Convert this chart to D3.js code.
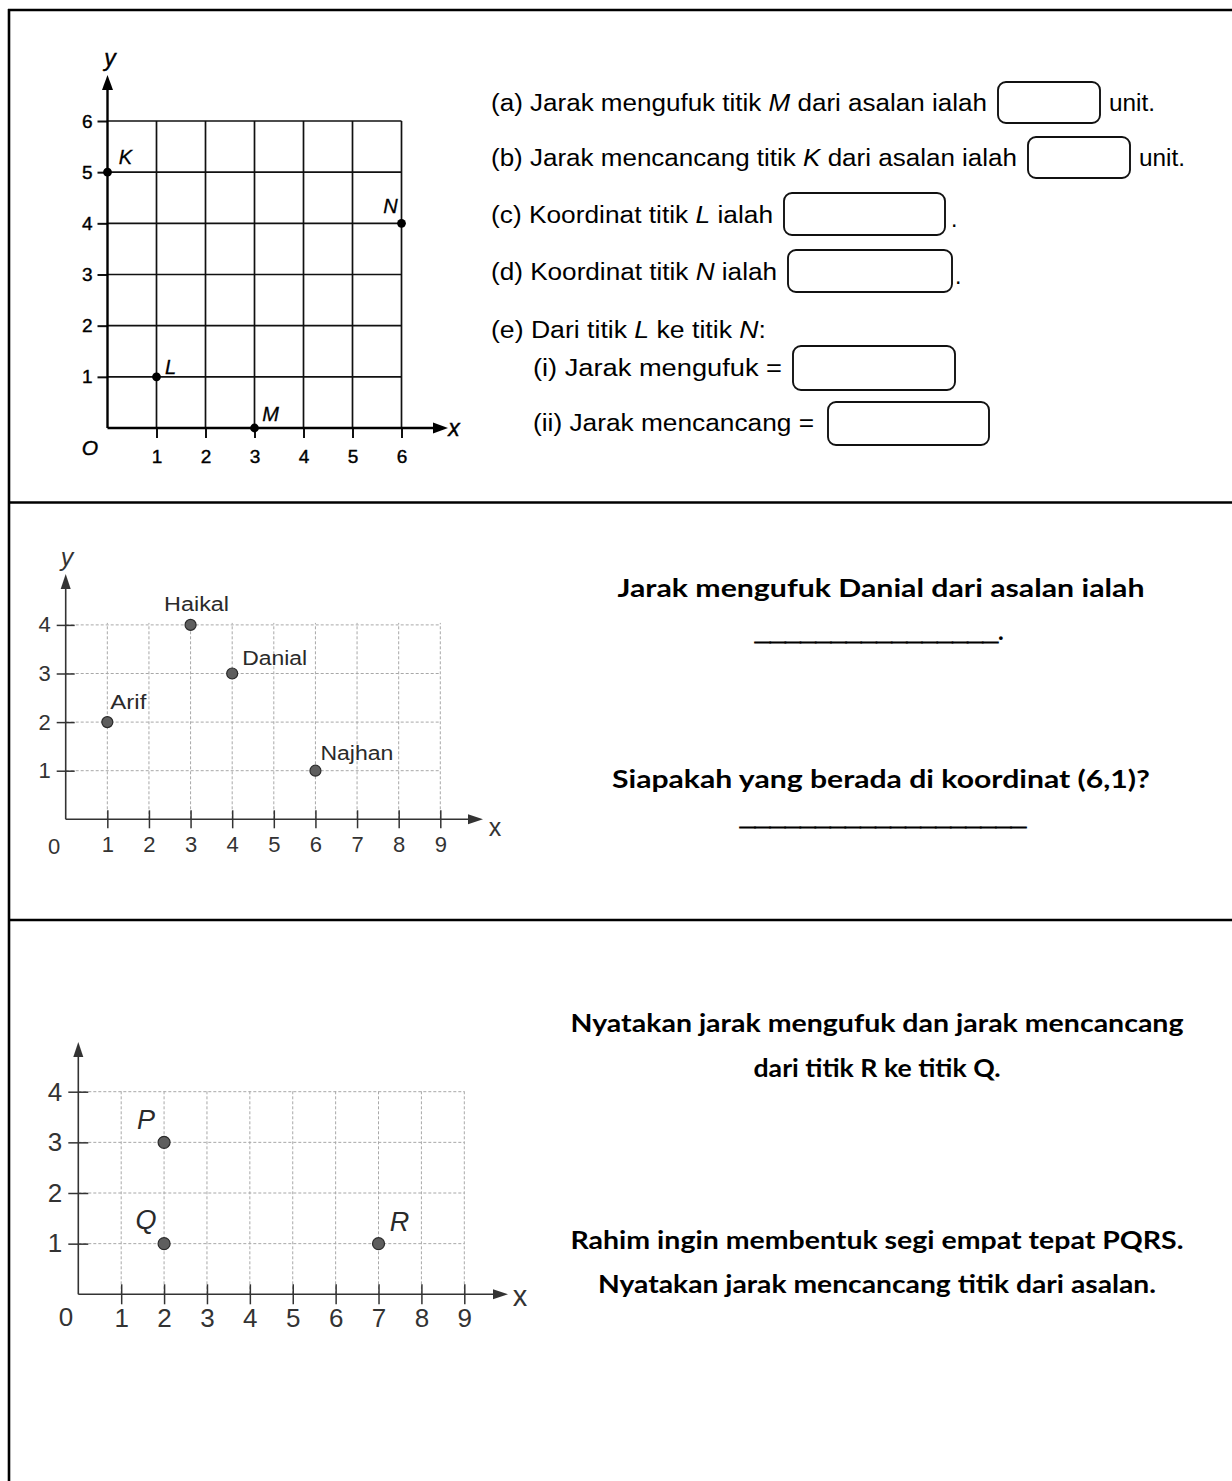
<!DOCTYPE html>
<html>
<head>
<meta charset="utf-8">
<script src="https://cdn.jsdelivr.net/npm/d3@7"></script>
<style>
body { margin: 0; background: #fff; }
svg { display: block; }
</style>
</head>
<body>
<script>
// ---- data ----
// chart 1 (top)
var ticksA = [1, 2, 3, 4, 5, 6];
var pointNamesA = ["K", "L", "M", "N"];
var pointXA = [0, 1, 3, 6];
var pointYA = [5, 1, 0, 4];
// chart 2 (middle)
var ticksBX = [1, 2, 3, 4, 5, 6, 7, 8, 9];
var ticksBY = [1, 2, 3, 4];
var pupilNames = ["Arif", "Haikal", "Danial", "Najhan"];
var pupilX = [1, 3, 4, 6];
var pupilY = [2, 4, 3, 1];
// chart 3 (bottom)
var ticksCX = [1, 2, 3, 4, 5, 6, 7, 8, 9];
var ticksCY = [1, 2, 3, 4];
var pointNamesC = ["P", "Q", "R"];
var pointXC = [2, 2, 7];
var pointYC = [3, 1, 1];
// question texts (*X* = italic)
var questionsA = [
    "(a) Jarak mengufuk titik *M* dari asalan ialah",
    "(b) Jarak mencancang titik *K* dari asalan ialah",
    "(c) Koordinat titik *L* ialah",
    "(d) Koordinat titik *N* ialah",
    "(e) Dari titik *L* ke titik *N*:",
    "(i)  Jarak mengufuk =",
    "(ii) Jarak mencancang ="
];
var questionsB = ["Jarak mengufuk Danial dari asalan ialah", "Siapakah yang berada di koordinat (6,1)?"];
var blanksB = ["________________", "___________________"];
var questionsC = [
    "Nyatakan jarak mengufuk dan jarak mencancang",
    "dari titik R ke titik Q.",
    "Rahim ingin membentuk segi empat tepat PQRS.",
    "Nyatakan jarak mencancang titik dari asalan."
];

var FONT = "Liberation Sans, Arial, sans-serif";
var svg = d3.select("body").append("svg").attr("width", 1232).attr("height", 1481);

// table frame
var frame = svg.append("g").attr("stroke", "#000").attr("stroke-width", 2.6);
frame.append("line").attr("x1", 8).attr("x2", 1232).attr("y1", 10).attr("y2", 10);
frame.append("line").attr("x1", 9).attr("x2", 9).attr("y1", 9).attr("y2", 1481);
[502.5, 920].forEach(function (y) {
    frame.append("line").attr("x1", 9).attr("x2", 1232).attr("y1", y).attr("y2", y);
});

function arrowUp(g, x, tip, color, w) {
    w = w || 5;
    g.append("path").attr("d", "M" + x + "," + tip + "L" + (x - w) + "," + (tip + 15) + "L" + (x + w) + "," + (tip + 15) + "Z")
        .attr("fill", color);
}
function arrowRight(g, tip, y, color, w) {
    w = w || 5;
    g.append("path").attr("d", "M" + tip + "," + y + "L" + (tip - 15) + "," + (y - w) + "L" + (tip - 15) + "," + (y + w) + "Z")
        .attr("fill", color);
}

// text with italic parts, squeezed to a given width
function fitText(g, str, x, y, width, opts) {
    opts = opts || {};
    var t = g.append("text").attr("x", x).attr("y", y)
        .attr("font-family", opts.family || FONT)
        .attr("font-size", opts.size || 23)
        .attr("font-weight", opts.weight || "normal")
        .attr("fill", opts.fill || "#000")
        .attr("text-anchor", opts.anchor || "start");
    str.split("*").forEach(function (part, i) {
        if (part === "") return;
        t.append("tspan").text(part).attr("font-style", i % 2 ? "italic" : "normal");
    });
    if (width) t.attr("textLength", width).attr("lengthAdjust", "spacingAndGlyphs");
    return t;
}

// ================= chart 1 =================
var xA = d3.scaleLinear().domain([0, 6]).range([107.5, 401.5]);
var yA = d3.scaleLinear().domain([0, 6]).range([428, 121]);
var gA = svg.append("g");

gA.selectAll("line.vgrid").data(ticksA).join("line").attr("class", "vgrid")
    .attr("x1", function (d) { return xA(d); }).attr("x2", function (d) { return xA(d); })
    .attr("y1", yA(0)).attr("y2", yA(6))
    .attr("stroke", "#111").attr("stroke-width", 1.7);
gA.selectAll("line.hgrid").data(ticksA).join("line").attr("class", "hgrid")
    .attr("x1", xA(0)).attr("x2", xA(6))
    .attr("y1", function (d) { return yA(d); }).attr("y2", function (d) { return yA(d); })
    .attr("stroke", "#111").attr("stroke-width", 1.7);

var axA = gA.append("g").attr("transform", "translate(" + xA(0) + ",0)")
    .call(d3.axisLeft(yA).tickValues(ticksA).tickSize(10).tickPadding(5).tickFormat(d3.format("d")));
var axAx = gA.append("g").attr("transform", "translate(0," + yA(0) + ")")
    .call(d3.axisBottom(xA).tickValues(ticksA).tickSize(10).tickPadding(12).tickFormat(d3.format("d")));
[axA, axAx].forEach(function (a) {
    a.select(".domain").remove();
    a.selectAll(".tick line").attr("stroke", "#111").attr("stroke-width", 2);
    a.selectAll(".tick text").attr("font-family", FONT)
        .attr("font-size", 19).attr("fill", "#000").attr("stroke", "#000").attr("stroke-width", 0.4);
});
gA.append("line").attr("x1", xA(0)).attr("x2", xA(0)).attr("y1", yA(0)).attr("y2", 86)
    .attr("stroke", "#000").attr("stroke-width", 2.4);
arrowUp(gA, xA(0), 75, "#000", 5.5);
gA.append("line").attr("x1", xA(0)).attr("x2", 436).attr("y1", yA(0)).attr("y2", yA(0))
    .attr("stroke", "#000").attr("stroke-width", 2.4);
arrowRight(gA, 448, yA(0), "#000", 5.5);
[["y", 110, 66, 23], ["x", 454, 436, 23], ["O", 90, 455, 21]].forEach(function (l) {
    gA.append("text").attr("x", l[1]).attr("y", l[2]).attr("text-anchor", "middle").attr("font-style", "italic")
        .attr("font-family", FONT).attr("font-size", l[3]).attr("fill", "#000")
        .attr("stroke", "#000").attr("stroke-width", 0.4).text(l[0]);
});

var ptsA = pointNamesA.map(function (n, i) { return { name: n, x: pointXA[i], y: pointYA[i] }; });
var offA = { K: [18, -8], L: [14, -3], M: [16, -7], N: [-11, -10] };
gA.selectAll("circle.pt").data(ptsA).join("circle").attr("class", "pt")
    .attr("cx", function (d) { return xA(d.x); }).attr("cy", function (d) { return yA(d.y); })
    .attr("r", 4.4).attr("fill", "#000");
gA.selectAll("text.pt").data(ptsA).join("text").attr("class", "pt")
    .attr("x", function (d) { return xA(d.x) + offA[d.name][0]; })
    .attr("y", function (d) { return yA(d.y) + offA[d.name][1]; })
    .attr("text-anchor", "middle").attr("font-style", "italic")
    .attr("font-family", FONT).attr("font-size", 20).attr("fill", "#000")
    .attr("stroke", "#000").attr("stroke-width", 0.3)
    .text(function (d) { return d.name; });

// questions of row 1
var qA = svg.append("g");
var qLayout = [[491, 111, 496], [491, 166, 526], [491, 223, 282], [491, 280, 286], [491, 338, 275], [533, 376, 249], [533, 431, 281]];
questionsA.forEach(function (q, i) {
    fitText(qA, q, qLayout[i][0], qLayout[i][1], qLayout[i][2]);
});
fitText(qA, "unit.", 1109, 111, 46);
fitText(qA, "unit.", 1139, 166, 46);
fitText(qA, ".", 951, 227, 0);
fitText(qA, ".", 955, 284, 0);
var boxes = [[998, 82, 1100, 123], [1028, 137, 1130, 178], [784, 193, 945, 235], [788, 250, 952, 292], [793, 346, 955, 390], [828, 402, 989, 445]];
qA.selectAll("rect.box").data(boxes).join("rect").attr("class", "box")
    .attr("x", function (d) { return d[0]; }).attr("y", function (d) { return d[1]; })
    .attr("width", function (d) { return d[2] - d[0]; }).attr("height", function (d) { return d[3] - d[1]; })
    .attr("rx", 8).attr("fill", "none").attr("stroke", "#111").attr("stroke-width", 1.9);

// ================= small grid charts (2 and 3) =================
function smallChart(cfg) {
    var g = svg.append("g");
    var x = cfg.x, y = cfg.y;
    var xMax = cfg.ticksX[cfg.ticksX.length - 1], yMax = cfg.ticksY[cfg.ticksY.length - 1];
    g.selectAll("line.vgrid").data(cfg.ticksX).join("line").attr("class", "vgrid")
        .attr("x1", function (d) { return x(d); }).attr("x2", function (d) { return x(d); })
        .attr("y1", y(0)).attr("y2", y(yMax) - 2)
        .attr("stroke", "#a8a8a8").attr("stroke-width", 1).attr("stroke-dasharray", "3,2");
    g.selectAll("line.hgrid").data(cfg.ticksY).join("line").attr("class", "hgrid")
        .attr("x1", x(0)).attr("x2", x(xMax))
        .attr("y1", function (d) { return y(d); }).attr("y2", function (d) { return y(d); })
        .attr("stroke", "#a8a8a8").attr("stroke-width", 1).attr("stroke-dasharray", "3,2");

    var ay = g.append("g").attr("transform", "translate(" + x(0) + ",0)")
        .call(d3.axisLeft(y).tickValues(cfg.ticksY).tickSize(cfg.tick).tickPadding(cfg.padY).tickFormat(d3.format("d")));
    var ax = g.append("g").attr("transform", "translate(0," + y(0) + ")")
        .call(d3.axisBottom(x).tickValues(cfg.ticksX).tickSize(cfg.tick).tickPadding(cfg.padX).tickFormat(d3.format("d")));
    ay.selectAll(".tick line").attr("x1", cfg.tick);
    ax.selectAll(".tick line").attr("y1", -cfg.tick);
    [ay, ax].forEach(function (a) {
        a.select(".domain").remove();
        a.selectAll(".tick line").attr("stroke", "#333").attr("stroke-width", 1.5);
        a.selectAll(".tick text").attr("font-family", FONT)
            .attr("font-size", cfg.font).attr("fill", "#333");
    });
    g.append("line").attr("x1", x(0)).attr("x2", x(0)).attr("y1", y(0)).attr("y2", cfg.arrowTop + 8)
        .attr("stroke", "#333").attr("stroke-width", 1.6);
    arrowUp(g, x(0), cfg.arrowTop, "#333");
    g.append("line").attr("x1", x(0)).attr("x2", cfg.arrowRight - 8).attr("y1", y(0)).attr("y2", y(0))
        .attr("stroke", "#333").attr("stroke-width", 1.6);
    arrowRight(g, cfg.arrowRight, y(0), "#333");
    g.append("text").attr("x", cfg.zero[0]).attr("y", cfg.zero[1]).attr("text-anchor", "middle")
        .attr("font-family", FONT).attr("font-size", cfg.font).attr("fill", "#333").text("0");
    g.append("text").attr("x", cfg.xLabel[0]).attr("y", cfg.xLabel[1]).attr("text-anchor", "middle")
        .attr("font-family", FONT).attr("font-size", cfg.font + 3).attr("fill", "#333").text("x");
    if (cfg.yLabel) {
        g.append("text").attr("x", cfg.yLabel[0]).attr("y", cfg.yLabel[1]).attr("text-anchor", "middle")
            .attr("font-family", FONT).attr("font-style", "italic").attr("font-size", cfg.font + 3).attr("fill", "#333").text("y");
    }

    var pts = cfg.names.map(function (n, i) { return { name: n, x: cfg.px[i], y: cfg.py[i] }; });
    g.selectAll("circle.pt").data(pts).join("circle").attr("class", "pt")
        .attr("cx", function (d) { return x(d.x); }).attr("cy", function (d) { return y(d.y); })
        .attr("r", cfg.r).attr("fill", "#5e5e5e").attr("stroke", "#2a2a2a").attr("stroke-width", 1.2);
    pts.forEach(function (d) {
        var o = cfg.labelOff[d.name];
        var t = g.append("text").attr("x", x(d.x) + o[0]).attr("y", y(d.y) + o[1])
            .attr("text-anchor", o[2]).attr("font-style", cfg.italic ? "italic" : "normal")
            .attr("font-family", FONT).attr("font-size", cfg.labelFont)
            .attr("fill", "#2a2a2a").text(d.name);
        if (o[3]) t.attr("textLength", o[3]).attr("lengthAdjust", "spacingAndGlyphs");
    });
}

smallChart({
    x: d3.scaleLinear().domain([0, 9]).range([65.7, 440.3]),
    y: d3.scaleLinear().domain([0, 4]).range([819.3, 624.9]),
    ticksX: ticksBX, ticksY: ticksBY,
    tick: 9, padY: 6, padX: 8, font: 22,
    arrowTop: 574, arrowRight: 483,
    zero: [54, 854], xLabel: [495, 836], yLabel: [67, 566],
    names: pupilNames, px: pupilX, py: pupilY, r: 5.5,
    labelFont: 20, italic: false,
    labelOff: { Arif: [3, -13, "start", 36], Haikal: [6, -14, "middle", 65], Danial: [10, -9, "start", 65], Najhan: [5, -11, "start", 73] }
});

smallChart({
    x: d3.scaleLinear().domain([0, 9]).range([78.3, 464.3]),
    y: d3.scaleLinear().domain([0, 4]).range([1294.3, 1091.7]),
    ticksX: ticksCX, ticksY: ticksCY,
    tick: 10, padY: 6, padX: 4, font: 26,
    arrowTop: 1042, arrowRight: 508,
    zero: [66, 1326], xLabel: [520, 1306], yLabel: null,
    names: pointNamesC, px: pointXC, py: pointYC, r: 6,
    labelFont: 27, italic: true,
    labelOff: { P: [-18, -13, "middle"], Q: [-18, -15, "middle"], R: [21, -13, "middle"] }
});

// questions of rows 2 and 3
var bold = { family: "Lato, Liberation Sans, sans-serif", size: 24, weight: "bold", anchor: "middle", fill: "#000" };
var rule = { family: FONT, size: 24, weight: "bold", anchor: "start", fill: "#000" };
var qB = svg.append("g");
fitText(qB, questionsB[0], 881, 597, 527, bold);
fitText(qB, blanksB[0], 755, 640, 243, rule).attr("stroke", "#000").attr("stroke-width", 1.1);
fitText(qB, ".", 998, 640, 0, bold).attr("text-anchor", "start");
fitText(qB, questionsB[1], 881, 788, 538, bold);
fitText(qB, blanksB[1], 740, 825, 286, rule).attr("stroke", "#000").attr("stroke-width", 1.1);

var qC = svg.append("g");
var cLayout = [[877, 1032, 613], [877, 1077, 247], [877, 1249, 613], [877, 1293, 558]];
questionsC.forEach(function (q, i) {
    fitText(qC, q, cLayout[i][0], cLayout[i][1], cLayout[i][2], bold);
});
</script>
</body>
</html>
